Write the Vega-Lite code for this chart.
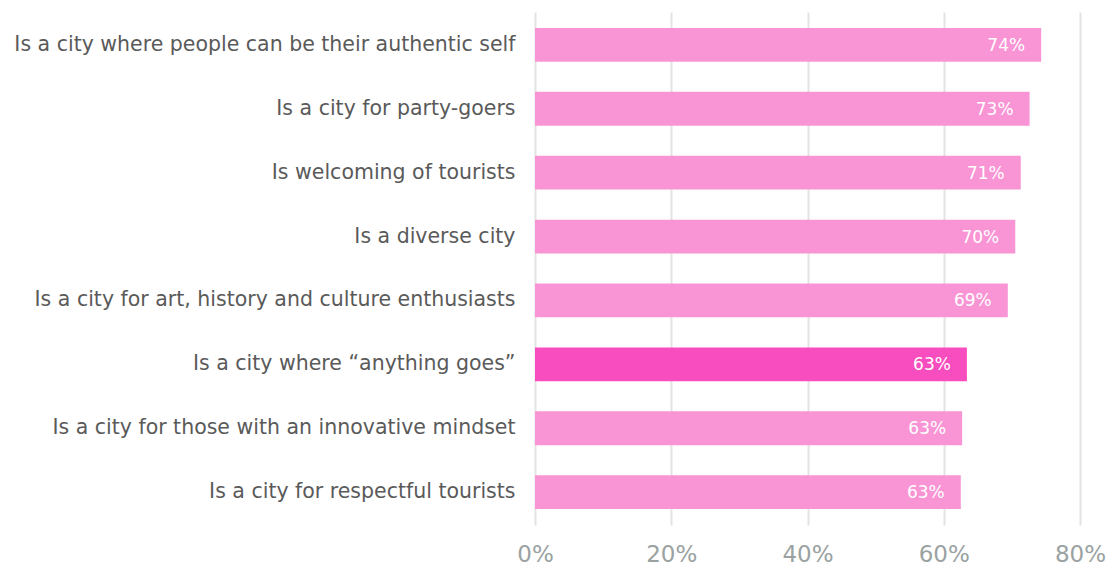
{
  "$schema": "https://vega.github.io/schema/vega-lite/v6.json",
  "width": 545,
  "height": 513,
  "autosize": {"type": "none"},
  "padding": {"left": 535, "top": 12, "right": 26, "bottom": 42},
  "background": "white",
  "data": {"values": [
    {"label": "Is a city where people can be their authentic self", "value": 0.743, "text": "74%", "hl": "no"},
    {"label": "Is a city for party-goers", "value": 0.726, "text": "73%", "hl": "no"},
    {"label": "Is welcoming of tourists", "value": 0.713, "text": "71%", "hl": "no"},
    {"label": "Is a diverse city", "value": 0.705, "text": "70%", "hl": "no"},
    {"label": "Is a city for art, history and culture enthusiasts", "value": 0.694, "text": "69%", "hl": "no"},
    {"label": "Is a city where “anything goes”", "value": 0.634, "text": "63%", "hl": "yes"},
    {"label": "Is a city for those with an innovative mindset", "value": 0.627, "text": "63%", "hl": "no"},
    {"label": "Is a city for respectful tourists", "value": 0.625, "text": "63%", "hl": "no"}
  ]},
  "encoding": {
    "y": {"field": "label", "type": "nominal", "sort": null, "title": null,
      "scale": {"paddingInner": 0.47, "paddingOuter": 0.25},
      "axis": {"domain": false, "ticks": false, "labelPadding": 20, "labelFont": "DejaVu Sans", "labelFontSize": 20.5, "labelColor": "#5a5a5a", "labelLimit": 600, "labelFontWeight": "normal"}},
    "x": {"field": "value", "type": "quantitative", "title": null,
      "scale": {"domain": [0, 0.8], "nice": false},
      "axis": {"values": [0, 0.2, 0.4, 0.6, 0.8], "format": ".0%", "domain": false, "ticks": false, "grid": true, "gridColor": "#e3e3e3", "gridWidth": 2, "labelPadding": 18, "labelFont": "DejaVu Sans", "labelFontSize": 23, "labelColor": "#9aa2a2", "labelFlush": false}}
  },
  "layer": [
    {"mark": {"type": "bar"},
     "encoding": {"color": {"field": "hl", "type": "nominal", "legend": null, "scale": {"domain": ["no", "yes"], "range": ["#f994d5", "#f84dbe"]}}}},
    {"mark": {"type": "text", "align": "right", "dx": -16, "dy": 1, "color": "white", "font": "DejaVu Sans", "fontSize": 17},
     "encoding": {"text": {"field": "text"}}}
  ],
  "config": {"view": {"stroke": null}}
}
